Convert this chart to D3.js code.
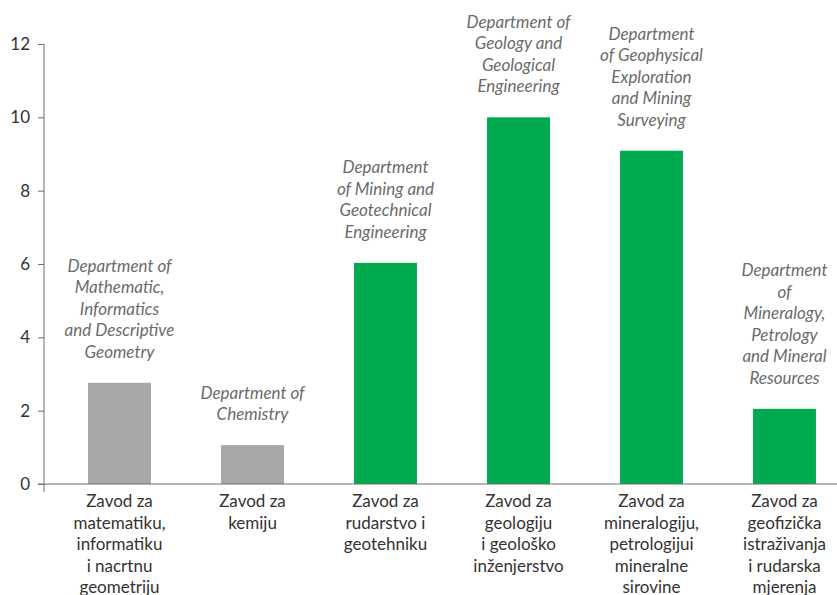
<!DOCTYPE html>
<html>
<head>
<meta charset="utf-8">
<script src="https://cdn.jsdelivr.net/npm/d3@7"></script>
<style>
  html, body { margin: 0; padding: 0; background: #fff; }
  svg { display: block; }
</style>
</head>
<body>
<svg id="chart" width="837" height="595"></svg>
<script>
// ---- data ----
const categories = [
  ["Zavod za", "matematiku,", "informatiku", "i nacrtnu", "geometriju"],
  ["Zavod za", "kemiju"],
  ["Zavod za", "rudarstvo i", "geotehniku"],
  ["Zavod za", "geologiju", "i geološko", "inženjerstvo"],
  ["Zavod za", "mineralogiju,", "petrologijui", "mineralne", "sirovine"],
  ["Zavod za", "geofizička", "istraživanja", "i rudarska", "mjerenja"]
];
const englishNames = [
  ["Department of", "Mathematic,", "Informatics", "and Descriptive", "Geometry"],
  ["Department of", "Chemistry"],
  ["Department", "of Mining and", "Geotechnical", "Engineering"],
  ["Department of", "Geology and", "Geological", "Engineering"],
  ["Department", "of Geophysical", "Exploration", "and Mining", "Surveying"],
  ["Department", "of", "Mineralogy,", "Petrology", "and Mineral", "Resources"]
];
const values = [2.76, 1.06, 6.03, 10.0, 9.09, 2.05];
const groups = ["grey", "grey", "green", "green", "green", "green"];
const yTicks = [0, 2, 4, 6, 8, 10, 12];

// ---- layout ----
const W = 837, H = 595;
const axisX = 44, baseY = 484, topY = 44;
const colors = { grey: "#a7a8aa", green: "#00aa4f" };
const font = "Lato, 'Open Sans', sans-serif";

const svg = d3.select("#chart");
const idx = d3.range(values.length);

const x = d3.scaleBand()
  .domain(idx)
  .range([53, 851])
  .paddingInner(0.527)
  .paddingOuter(0.2635);

const y = d3.scaleLinear().domain([0, 12]).range([baseY, topY]);

// y axis
const yAxis = d3.axisLeft(y)
  .tickValues(yTicks)
  .tickFormat(d3.format("d"))
  .tickSize(6)
  .tickSizeOuter(0)
  .tickPadding(8);

const gy = svg.append("g")
  .attr("transform", `translate(${axisX},0)`)
  .call(yAxis);
gy.select(".domain").remove();
gy.selectAll(".tick line").attr("stroke", "#6e6e6e");
gy.selectAll(".tick text")
  .attr("fill", "#333")
  .style("font-family", font)
  .style("font-size", "17px");

// bars
svg.append("g").selectAll("rect")
  .data(idx)
  .join("rect")
  .attr("x", i => x(i))
  .attr("width", x.bandwidth())
  .attr("y", i => y(values[i]))
  .attr("height", i => y(0) - y(values[i]))
  .attr("fill", i => colors[groups[i]]);

// axis lines
svg.append("line")
  .attr("x1", axisX).attr("x2", axisX)
  .attr("y1", y(12)).attr("y2", baseY + 8)
  .attr("stroke", "#6e6e6e").attr("stroke-width", 1);
svg.append("line")
  .attr("x1", axisX - 6).attr("x2", W)
  .attr("y1", baseY).attr("y2", baseY)
  .attr("stroke", "#6e6e6e").attr("stroke-width", 1);

// category labels
const lh = 21.5;
svg.append("g").selectAll("text")
  .data(idx)
  .join("text")
  .attr("x", i => x(i) + x.bandwidth() / 2)
  .attr("y", baseY + 23)
  .attr("text-anchor", "middle")
  .attr("fill", "#333")
  .style("font-family", font)
  .style("font-size", "17px")
  .each(function(i) {
    const t = d3.select(this);
    categories[i].forEach((line, k) => {
      t.append("tspan")
        .attr("x", x(i) + x.bandwidth() / 2)
        .attr("dy", k === 0 ? 0 : lh)
        .text(line);
    });
  });

// english italic labels above bars
svg.append("g").selectAll("text")
  .data(idx)
  .join("text")
  .attr("text-anchor", "middle")
  .attr("fill", "#6b6b6b")
  .style("font-family", font)
  .style("font-style", "italic")
  .style("font-size", "17px")
  .each(function(i) {
    const t = d3.select(this);
    const lines = englishNames[i];
    const cx = x(i) + x.bandwidth() / 2;
    const lastBase = y(values[i]) - 25;
    const firstBase = lastBase - (lines.length - 1) * lh;
    t.attr("y", firstBase);
    lines.forEach((line, k) => {
      t.append("tspan")
        .attr("x", cx)
        .attr("dy", k === 0 ? 0 : lh)
        .text(line);
    });
  });
</script>
</body>
</html>
